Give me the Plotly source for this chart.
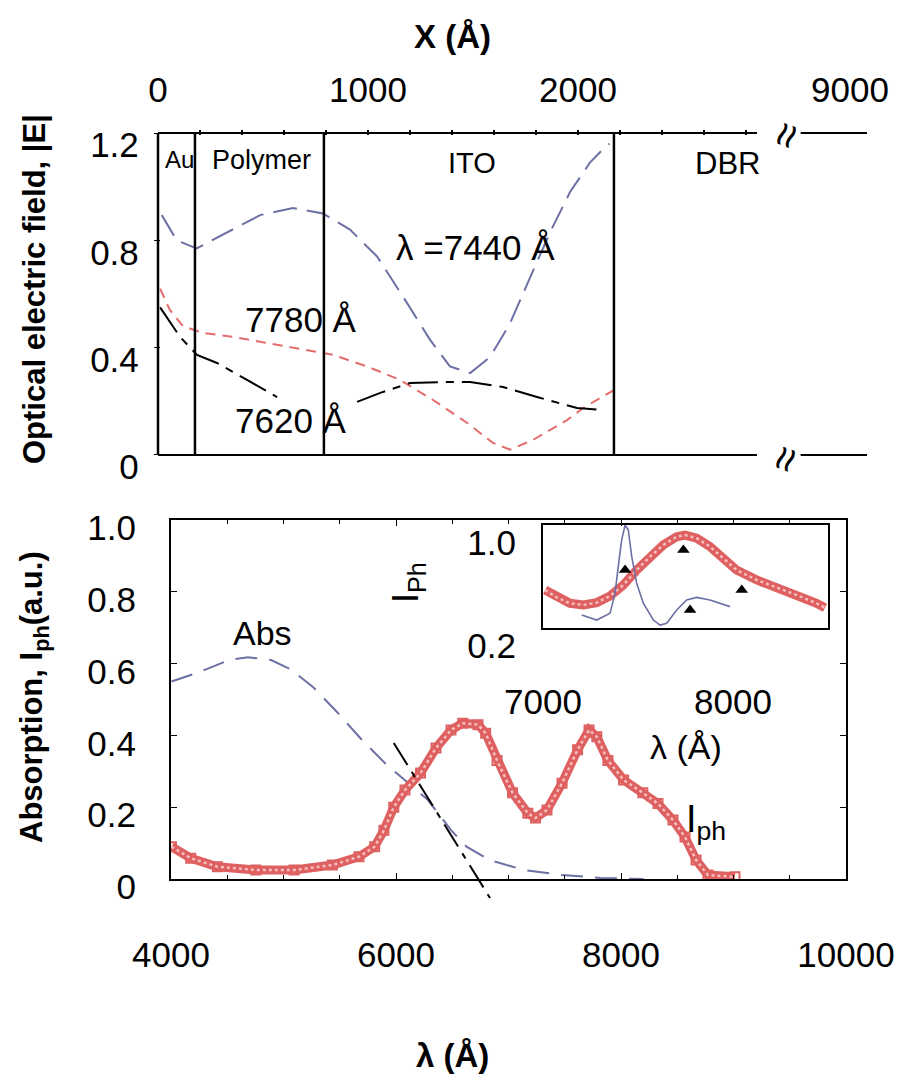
import plotly.graph_objects as go

# ---------------- data: top panel (optical field vs depth X, Angstrom) -------------
x_e7440 = [18, 89, 184, 357, 486, 643, 786, 914, 1043, 1167, 1295, 1390, 1486, 1581,
           1676, 1771, 1867, 1962, 2057, 2119, 2150]
e7440 = [0.894, 0.80, 0.77, 0.84, 0.894, 0.92, 0.90, 0.84, 0.74, 0.59, 0.43, 0.33,
         0.305, 0.365, 0.49, 0.66, 0.83, 0.98, 1.09, 1.14, 1.16]

x_e7780 = [10, 57, 119, 214, 357, 567, 724, 833, 995, 1152, 1310, 1471, 1595, 1676,
           1786, 1948, 2024, 2167]
e7780 = [0.62, 0.54, 0.48, 0.455, 0.44, 0.41, 0.39, 0.373, 0.33, 0.28, 0.205, 0.12,
         0.045, 0.02, 0.056, 0.13, 0.175, 0.24]

x_e7620 = [10, 105, 186, 281, 424, 567, None, 948, 1071, 1200, 1357, 1486, 1643,
           1805, 1995, 2119]
e7620 = [0.55, 0.44, 0.373, 0.343, 0.28, 0.216, None, 0.198, 0.235, 0.268, 0.272,
         0.272, 0.253, 0.216, 0.175, 0.168]

layer_bounds = [0, 176, 790, 2171]          # Au | Polymer | ITO | DBR interfaces
top_ticks = [0, 1000, 2000, 3295]
top_ticktext = ["0", "1000", "2000", "9000"]
break_gap = [2852, 3060]                    # axis break
x_end = 3376

# ---------------- data: bottom panel (absorption, photocurrent) ---------------------
lam_abs = [4004, 4240, 4516, 4684, 4889, 5058, 5262, 5467, 5707, 5911, 6080, 6284,
           6489, 6627, 6831, 7138, 7476, 7818, 8200]
absorb = [0.55, 0.575, 0.61, 0.618, 0.61, 0.585, 0.535, 0.468, 0.384, 0.32, 0.275,
          0.22, 0.136, 0.09, 0.053, 0.025, 0.011, 0.003, 0.0]

lam_iph = [4004, 4175, 4413, 4754, 5094, 5435, 5671, 5810, 5893, 5980, 6080, 6218,
           6356, 6489, 6593, 6729, 6797, 6898, 7036, 7172, 7240, 7342, 7476, 7614,
           7716, 7785, 7884, 8023, 8194, 8329, 8462, 8569, 8667, 8773, 9013]
iph = [0.09, 0.058, 0.034, 0.025, 0.025, 0.039, 0.062, 0.09, 0.136, 0.2, 0.248,
       0.295, 0.365, 0.415, 0.434, 0.43, 0.406, 0.33, 0.24, 0.183, 0.17, 0.192,
       0.267, 0.36, 0.415, 0.396, 0.33, 0.276, 0.24, 0.21, 0.164, 0.117, 0.053,
       0.011, 0.006]

lam_tan = [5980, 6836]
tan_val = [0.379, -0.053]

# ---------------- data: inset --------------------------------------------------------
lam_in_red = [7011, 7072, 7142, 7212, 7283, 7353, 7423, 7493, 7563, 7633, 7704, 7747,
              7809, 7879, 7949, 8019, 8125, 8230, 8335, 8440, 8484]
in_red = [0.495, 0.438, 0.392, 0.379, 0.397, 0.449, 0.534, 0.65, 0.754, 0.845, 0.909,
          0.922, 0.897, 0.832, 0.741, 0.65, 0.573, 0.516, 0.456, 0.392, 0.358]

lam_in_blue = [7204, 7283, 7353, 7379, 7396, 7414, 7432, 7449, 7467, 7493, 7528, 7581,
               7616, 7651, 7704, 7756, 7809, 7879, 7984]
in_blue = [0.301, 0.262, 0.314, 0.469, 0.676, 0.883, 1.0, 0.961, 0.754, 0.547, 0.392,
           0.262, 0.223, 0.237, 0.34, 0.417, 0.438, 0.417, 0.366]

lam_tri = [7432, 7739, 8046, 7774]
tri_val = [0.65, 0.806, 0.495, 0.34]

bottom_ticks = [4000, 6000, 8000, 10000]
bottom_ticktext = ["4000", "6000", "8000", "10000"]
bottom_yticks = [0, 0.2, 0.4, 0.6, 0.8, 1.0]
bottom_yticktext = ["0", "0.2", "0.4", "0.6", "0.8", "1.0"]
inset_xticks = [7000, 8000]
inset_xticktext = ["7000", "8000"]

# ---------------- styling -----------------------------------------------------------
W, H = 905, 1089
FONT = "Liberation Sans, Arial, Helvetica, sans-serif"
BLUE = "rgb(108,112,164)"
RED = "rgb(228,108,108)"
IPH = "rgb(222,96,96)"
IPH_LIGHT = "rgb(246,190,190)"


def fx(px):
    return px / W


def fy(py):
    return 1 - py / H


fig = go.Figure()

# top panel curves
fig.add_trace(go.Scatter(x=x_e7440, y=e7440, mode="lines", xaxis="x", yaxis="y",
                         line=dict(color=BLUE, width=2, dash="24px,10px")))
fig.add_trace(go.Scatter(x=x_e7780, y=e7780, mode="lines", xaxis="x", yaxis="y",
                         line=dict(color=RED, width=2, dash="10px,7px")))
fig.add_trace(go.Scatter(x=x_e7620, y=e7620, mode="lines", xaxis="x", yaxis="y",
                         connectgaps=False,
                         line=dict(color="black", width=2, dash="30px,8px,8px,8px")))

# bottom panel curves
fig.add_trace(go.Scatter(x=lam_abs, y=absorb, mode="lines", xaxis="x2", yaxis="y2",
                         line=dict(color=BLUE, width=2, dash="22px,12px")))
fig.add_trace(go.Scatter(x=lam_iph, y=iph, mode="lines+markers", xaxis="x2", yaxis="y2",
                         line=dict(color=IPH, width=9),
                         marker=dict(symbol="square-open", size=9, color=IPH,
                                     line=dict(width=2))))
fig.add_trace(go.Scatter(x=lam_iph, y=iph, mode="lines", xaxis="x2", yaxis="y2",
                         line=dict(color=IPH_LIGHT, width=2.5, dash="3px,3px")))
fig.add_trace(go.Scatter(x=lam_tan, y=tan_val, mode="lines", xaxis="x4", yaxis="y4",
                         line=dict(color="black", width=2, dash="26px,8px,6px,8px")))

# inset curves
fig.add_trace(go.Scatter(x=lam_in_red, y=in_red, mode="lines", xaxis="x3", yaxis="y3",
                         line=dict(color=IPH, width=9)))
fig.add_trace(go.Scatter(x=lam_in_red, y=in_red, mode="lines", xaxis="x3", yaxis="y3",
                         line=dict(color=IPH_LIGHT, width=2.5, dash="3px,3px")))
fig.add_trace(go.Scatter(x=lam_in_blue, y=in_blue, mode="lines", xaxis="x3", yaxis="y3",
                         line=dict(color=BLUE, width=1.6)))
fig.add_trace(go.Scatter(x=lam_tri, y=tri_val, mode="markers", xaxis="x3", yaxis="y3",
                         marker=dict(symbol="triangle-up", size=11, color="black")))

# top frame with broken axis
shapes = []
for yv in (0, 1.2):
    shapes.append(dict(type="line", xref="x", yref="y", x0=0, x1=break_gap[0], y0=yv, y1=yv,
                       line=dict(color="black", width=2)))
    shapes.append(dict(type="line", xref="x", yref="y", x0=break_gap[1], x1=x_end, y0=yv, y1=yv,
                       line=dict(color="black", width=2)))
for xb in layer_bounds:
    shapes.append(dict(type="line", xref="x", yref="y", x0=xb, x1=xb, y0=0, y1=1.2,
                       line=dict(color="black", width=2.5)))

tickfont = dict(family=FONT, size=35, color="black")
common = dict(automargin=False, showgrid=False, zeroline=False, tickfont=tickfont)

fig.update_layout(
    width=W, height=H, margin=dict(l=0, r=0, t=0, b=0, autoexpand=False),
    paper_bgcolor="white", plot_bgcolor="rgba(0,0,0,0)", showlegend=False,
    font=dict(family=FONT, color="black"),
    shapes=shapes,
    xaxis=dict(domain=[fx(153.8), fx(867)], anchor="y", side="top", range=[-20, x_end],
               tickvals=top_ticks, ticktext=top_ticktext, ticks="", showline=False,
               ticklabelstandoff=20,
               minor=dict(tickvals=list(range(200, 2900, 200)), ticks="inside", ticklen=5,
                          tickcolor="black", tickwidth=1.5, showgrid=False), **common),
    yaxis=dict(domain=[fy(458.2), fy(129.8)], anchor="x", range=[-0.012, 1.212],
               tickvals=[0, 0.4, 0.8, 1.2], ticktext=["0", "0.4", "0.8", "1.2"],
               ticks="inside", ticklen=6, tickcolor="black", showline=False,
               ticklabelstandoff=14, ticklabelshift=12, **common),
    xaxis2=dict(domain=[fx(171), fx(846)], anchor="y2", range=[4000, 10000],
                tickvals=bottom_ticks, ticktext=bottom_ticktext, ticks="inside", ticklen=6,
                tickcolor="black", showline=True, linecolor="black", linewidth=2,
                mirror="ticks", ticklabelstandoff=44,
                minor=dict(dtick=500, tick0=4000, ticks="inside", ticklen=4, tickcolor="black",
                           showgrid=False), **common),
    yaxis2=dict(domain=[fy(879), fy(520)], anchor="x2", range=[0, 1.0],
                tickvals=bottom_yticks, ticktext=bottom_yticktext, ticks="inside", ticklen=6,
                tickcolor="black", showline=True, linecolor="black", linewidth=2,
                mirror="ticks", ticklabelstandoff=26, ticklabelshift=8, **common),
    xaxis3=dict(domain=[fx(543), fx(828)], anchor="y3", range=[7000, 8500],
                tickvals=inset_xticks, ticktext=inset_xticktext, ticks="", showline=True,
                linecolor="black", linewidth=2, mirror=True, ticklabelstandoff=42, **common),
    yaxis3=dict(domain=[fy(628), fy(525)], anchor="x3", range=[0.2, 1.0],
                tickvals=[0.2, 1.0], ticktext=["0.2", "1.0"], ticks="", showline=True,
                linecolor="black", linewidth=2, mirror=True, ticklabelstandoff=18,
                ticklabelshift=18, **common),
    xaxis4=dict(domain=[fx(171), fx(846)], anchor="y4", range=[4000, 10000], visible=False,
                automargin=False),
    yaxis4=dict(domain=[fy(909), fy(520)], anchor="x4", range=[-30 / 359, 1.0], visible=False,
                automargin=False),
)


def note(text, px, py, size=34, angle=0, bold=False, xanchor="center"):
    if bold:
        text = "<b>" + text + "</b>"
    fig.add_annotation(text=text, x=fx(px), y=fy(py), xref="paper", yref="paper",
                       showarrow=False, xanchor=xanchor, yanchor="middle", textangle=angle,
                       font=dict(family=FONT, size=size, color="black"))


# axis titles
note("X (Å)", 452, 36, size=33, bold=True)
note("λ (Å)", 452, 1055, size=33, bold=True)
note("Optical electric field, |E|", 34, 289, size=31, angle=-90, bold=True)
note("Absorption, I<sub>ph</sub>(a.u.)", 34, 697, size=31, angle=-90, bold=True)

# layer labels
note("Au", 179, 160, size=24)
note("Polymer", 261, 160, size=27)
note("ITO", 472, 163, size=29)
note("DBR", 727, 163, size=31)

# curve labels
note("λ =7440 Å", 475, 247, size=35)
note("7780 Å", 301, 320, size=35)
note("7620 Å", 291, 420, size=35)
note("Abs", 262, 633, size=34)
note("I<sub>ph</sub>", 684, 822, size=38, xanchor="left")
note("I<sub>Ph</sub>", 408, 583, size=36, angle=-90)
note("λ (Å)", 686, 747, size=34)

# axis-break marks
note("≈", 785, 135, size=44, angle=-70)
note("≈", 785, 459, size=44, angle=-70)

fig.write_html(
    "out.html",
    config={"displayModeBar": False},
    post_script="document.body.style.margin='0';document.body.style.padding='0';"
                "document.body.style.overflow='hidden';",
)
